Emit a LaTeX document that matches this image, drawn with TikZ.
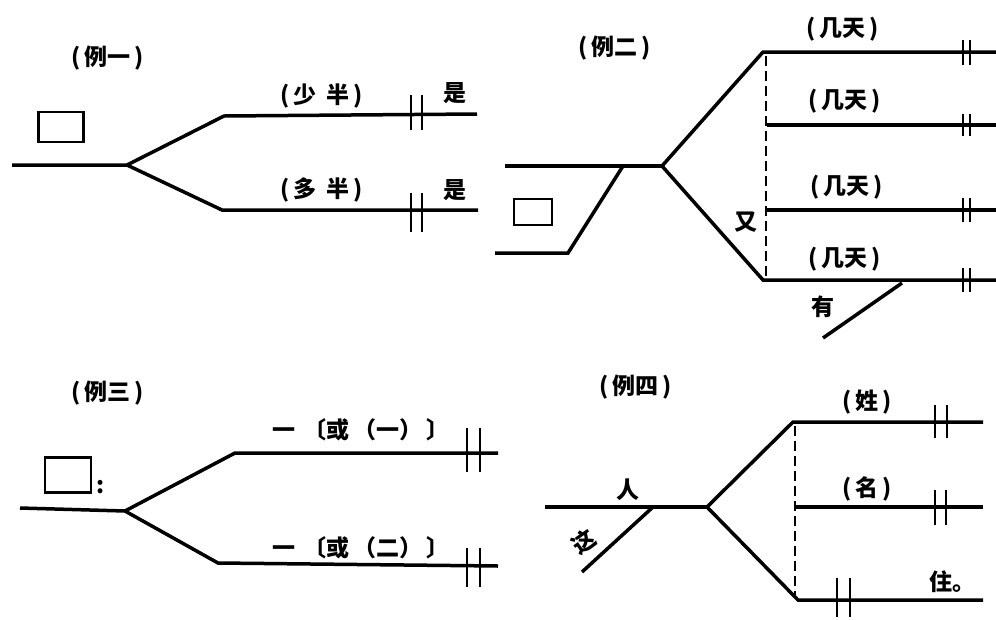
\documentclass[tikz,border=0pt]{standalone}
\usepackage{fontspec}
\newfontfamily\cjk{Noto Sans CJK SC}
\begin{document}
\begin{tikzpicture}[x=1pt,y=-1pt,
  ln/.style={line width=3.5pt},
  brk/.style={line width=2.8pt},
  dsh/.style={line width=2.8pt,dash pattern=on 10pt off 5pt},
  lbl/.style={font=\cjk\bfseries\fontsize{23}{25}\selectfont,inner sep=0pt},
  box/.style={draw,line width=2.8pt,inner sep=0pt}]
\useasboundingbox (0,0) rectangle (996,619);
% ---------- Example 1 ----------
\node[lbl] (t1) at (108,58) {(\,例一\,)};
\node[box,minimum width=45pt,minimum height=30pt] (b1) at (61,127) {};
\coordinate (a1) at (12,165);
\coordinate (p1) at (127,165);
\coordinate (u1) at (224,116);
\coordinate (ue1) at (477,114);
\coordinate (d1) at (222,210);
\coordinate (de1) at (478,210);
\draw[ln] (a1) -- (p1) -- (u1) -- (ue1);
\draw[ln] (p1) -- (d1) -- (de1);
\draw[brk] (411,95) -- (411,130) (422,95) -- (422,130);
\draw[brk] (411,193) -- (411,232) (422,193) -- (422,232);
\node[lbl] (s1) at (322,96) {(\,少\hspace{10pt}半\,)};
\node[lbl] (s2) at (455,93) {是};
\node[lbl] (s3) at (322,190) {(\,多\hspace{10pt}半\,)};
\node[lbl] (s4) at (455,190) {是};
% ---------- Example 2 ----------
\node[lbl] (t2) at (615,48) {(\,例二\,)};
\node[box,minimum width=38pt,minimum height=26pt] (b2) at (533,212) {};
\coordinate (a2) at (505,166);
\coordinate (j2) at (623,166);
\coordinate (p2) at (662,166);
\coordinate (l2) at (568,253);
\coordinate (le2) at (495,253);
\draw[ln] (a2) -- (p2);
\draw[ln] (j2) -- (l2) -- (le2);
\coordinate (r1) at (763,52);  \coordinate (r1e) at (996,52);
\coordinate (r2) at (767,125); \coordinate (r2e) at (996,125);
\coordinate (r3) at (767,210); \coordinate (r3e) at (996,210);
\coordinate (r4) at (763,280); \coordinate (r4e) at (996,280);
\draw[ln] (p2) -- (r1) -- (r1e);
\draw[ln] (p2) -- (r4) -- (r4e);
\draw[ln] (r2) -- (r2e);
\draw[ln] (r3) -- (r3e);
\draw[dsh] (766,56) -- (766,278);
\draw[brk] (963,40) -- (963,65) (970,40) -- (970,65);
\draw[brk] (963,114) -- (963,136) (970,114) -- (970,136);
\draw[brk] (963,198) -- (963,222) (970,198) -- (970,222);
\draw[brk] (963,268) -- (963,292) (970,268) -- (970,292);
\node[lbl] (k1) at (843,29) {(\,几天\,)};
\node[lbl] (k2) at (845,101) {(\,几天\,)};
\node[lbl] (k3) at (847,187) {(\,几天\,)};
\node[lbl] (k4) at (845,259) {(\,几天\,)};
\node[lbl] (y2) at (746,222) {又};
\coordinate (h1) at (902,283);
\coordinate (h2) at (823,338);
\draw[ln] (h1) -- (h2);
\node[lbl] (y3) at (823,307) {有};
% ---------- Example 3 ----------
\node[lbl] (t3) at (108,393) {(\,例三\,)};
\node[box,minimum width=46pt,minimum height=35pt] (b3) at (68,475) {};
\node[lbl] (c3) at (101,487) {:};
\coordinate (a3) at (20,508);
\coordinate (p3) at (125,511);
\coordinate (u3) at (235,453);
\coordinate (ue3) at (498,453);
\coordinate (d3) at (218,563);
\coordinate (de3) at (498,566);
\draw[ln] (a3) -- (p3) -- (u3) -- (ue3);
\draw[ln] (p3) -- (d3) -- (de3);
\draw[brk] (467,428) -- (467,472) (480,428) -- (480,472);
\draw[brk] (467,548) -- (467,587) (480,548) -- (480,587);
\node[lbl] (g1) at (361,430) {一\hspace{8pt}〔或\hspace{4pt}（一）\hspace{4pt}〕};
\node[lbl] (g2) at (361,548) {一\hspace{8pt}〔或\hspace{4pt}（二）\hspace{4pt}〕};
% ---------- Example 4 ----------
\node[lbl] (t4) at (636,387) {(\,例四\,)};
\coordinate (a4) at (545,507);
\coordinate (j4) at (653,507);
\coordinate (p4) at (707,507);
\coordinate (z4) at (582,572);
\draw[ln] (a4) -- (p4);
\draw[ln] (j4) -- (z4);
\node[lbl] (ren) at (628,490) {人};
\node[lbl,rotate=35] (zhe) at (584,542) {这};
\coordinate (q1) at (793,422); \coordinate (q1e) at (983,422);
\coordinate (q2) at (795,507); \coordinate (q2e) at (983,507);
\coordinate (q3) at (798,600); \coordinate (q3e) at (983,600);
\draw[ln] (p4) -- (q1) -- (q1e);
\draw[ln] (q2) -- (q2e);
\draw[ln] (p4) -- (q3) -- (q3e);
\draw[dsh] (795,426) -- (795,598);
\draw[brk] (935,405) -- (935,438) (947,405) -- (947,438);
\draw[brk] (935,490) -- (935,525) (946,490) -- (946,525);
\draw[brk] (837,578) -- (837,617) (850,578) -- (850,617);
\node[lbl] (xing) at (867,402) {(\,姓\,)};
\node[lbl] (ming) at (867,489) {(\,名\,)};
\node[lbl] (zhu) at (952,582) {住。};
\end{tikzpicture}
\end{document}
